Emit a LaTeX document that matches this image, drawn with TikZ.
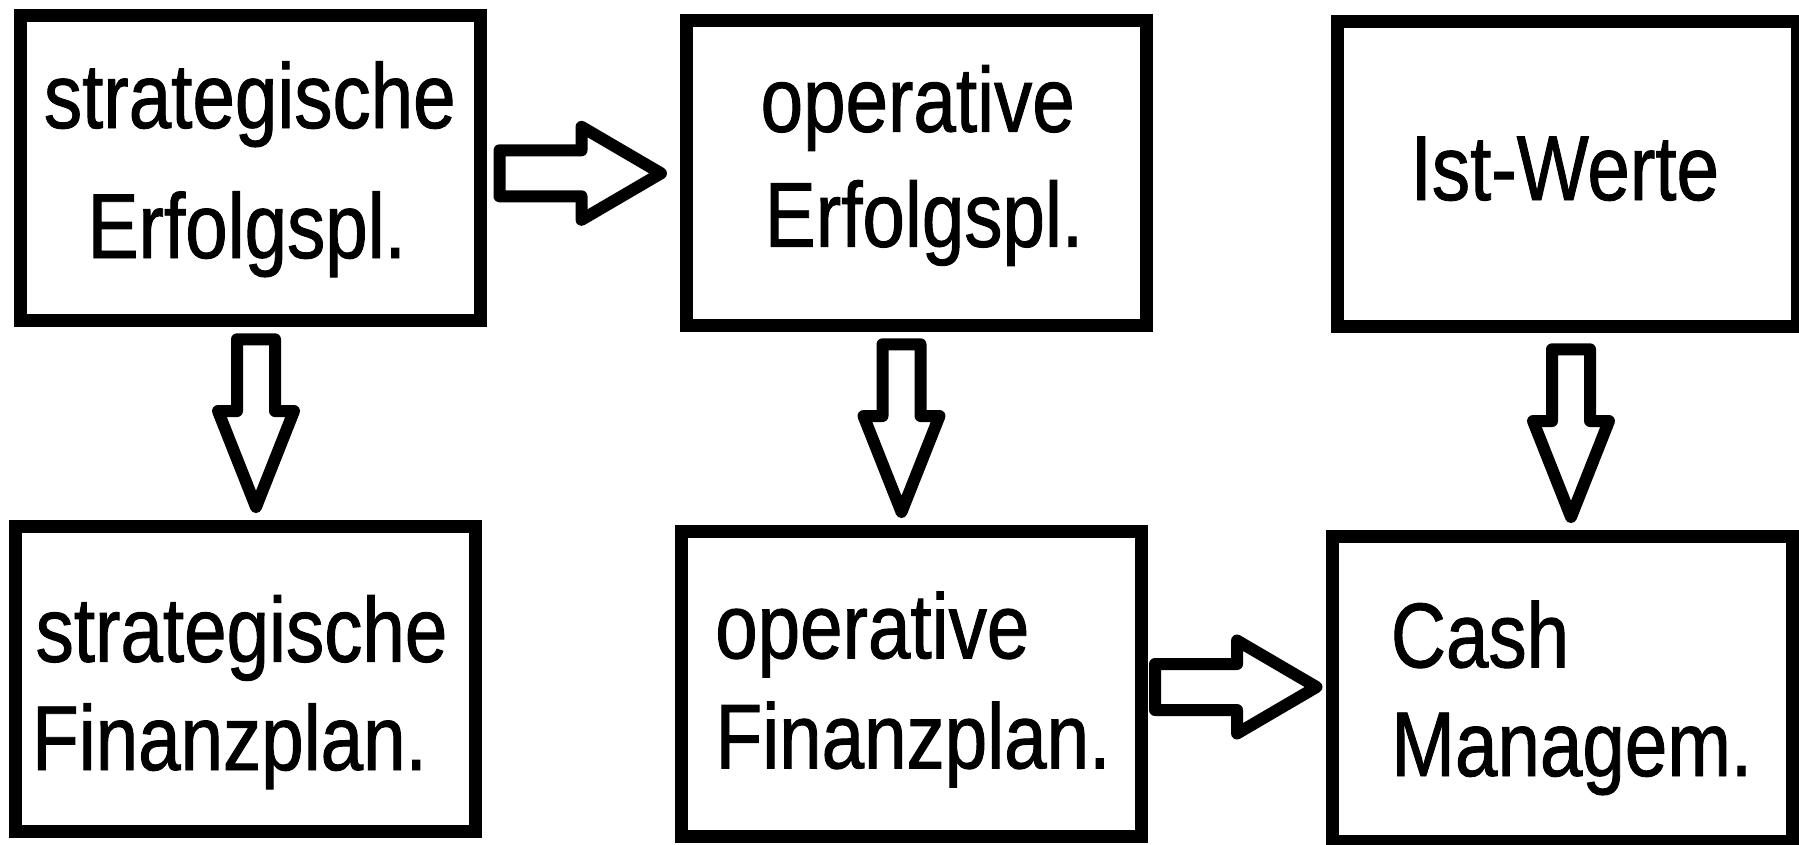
\documentclass[tikz,border=0pt]{standalone}
\usepackage{fontspec}
\newfontfamily\lsn[FakeStretch=0.83,FakeBold=1]{Liberation Sans}
\begin{document}
\begin{tikzpicture}[x=1pt,y=-1pt,
  box/.style={draw=black, line width=13pt, rectangle, inner sep=0pt,
    minimum width=460pt, minimum height=305pt},
  lbl/.style={anchor=base, inner sep=0pt, font=\lsn\fontsize{92}{92}\selectfont},
  arrline/.style={draw=black, fill=white, line width=12pt, line join=round},
  downarr/.pic={\draw[arrline] (-19,0) -- (19,0) -- (19,71.7) -- (38,71.7) -- (0,167.7) -- (-38,71.7) -- (-19,71.7) -- cycle;},
  rightarr/.pic={\draw[arrline] (0,-23) -- (82,-23) -- (82,-46.5) -- (161.5,0) -- (82,46.5) -- (82,23) -- (0,23) -- cycle;}
]
\useasboundingbox[fill=white] (0,0) rectangle (1799,844);

% boxes
\node[box] (b1) at (250,167.5) {};
\node[box] (b2) at (916,172.8) {};
\node[box] (b3) at (1567,174) {};
\node[box] (b4) at (245.3,678.5) {};
\node[box] (b5) at (911.5,683.5) {};
\node[box] (b6) at (1562.6,689) {};

% labels
\node[lbl] (t1a) at (249.8,128) {strategische};
\node[lbl] (t1b) at (246.8,258) {Erfolgspl.};
\node[lbl] (t2a) at (917.7,131.7) {operative};
\node[lbl] (t2b) at (924,246.7) {Erfolgspl.};
\node[lbl] (t3a) at (1564.8,200) {Ist-Werte};
\node[lbl] (t4a) at (241.5,661.7) {strategische};
\node[lbl] (t4b) at (229.5,770) {Finanzplan.};
\node[lbl] (t5a) at (872.3,658.3) {operative};
\node[lbl] (t5b) at (913,768.3) {Finanzplan.};
\node[lbl] (t6a) at (1480,667.3) {Cash};
\node[lbl] (t6b) at (1571.8,776) {Managem.};

% block arrows
\coordinate (d1) at (256,339.3);
\coordinate (d2) at (901.5,344.3);
\coordinate (d3) at (1571,349.3);
\coordinate (r1) at (499.5,173.3);
\coordinate (r2) at (1155,687);
\pic at (d1) {downarr};
\pic at (d2) {downarr};
\pic at (d3) {downarr};
\pic at (r1) {rightarr};
\pic at (r2) {rightarr};
\end{tikzpicture}
\end{document}
